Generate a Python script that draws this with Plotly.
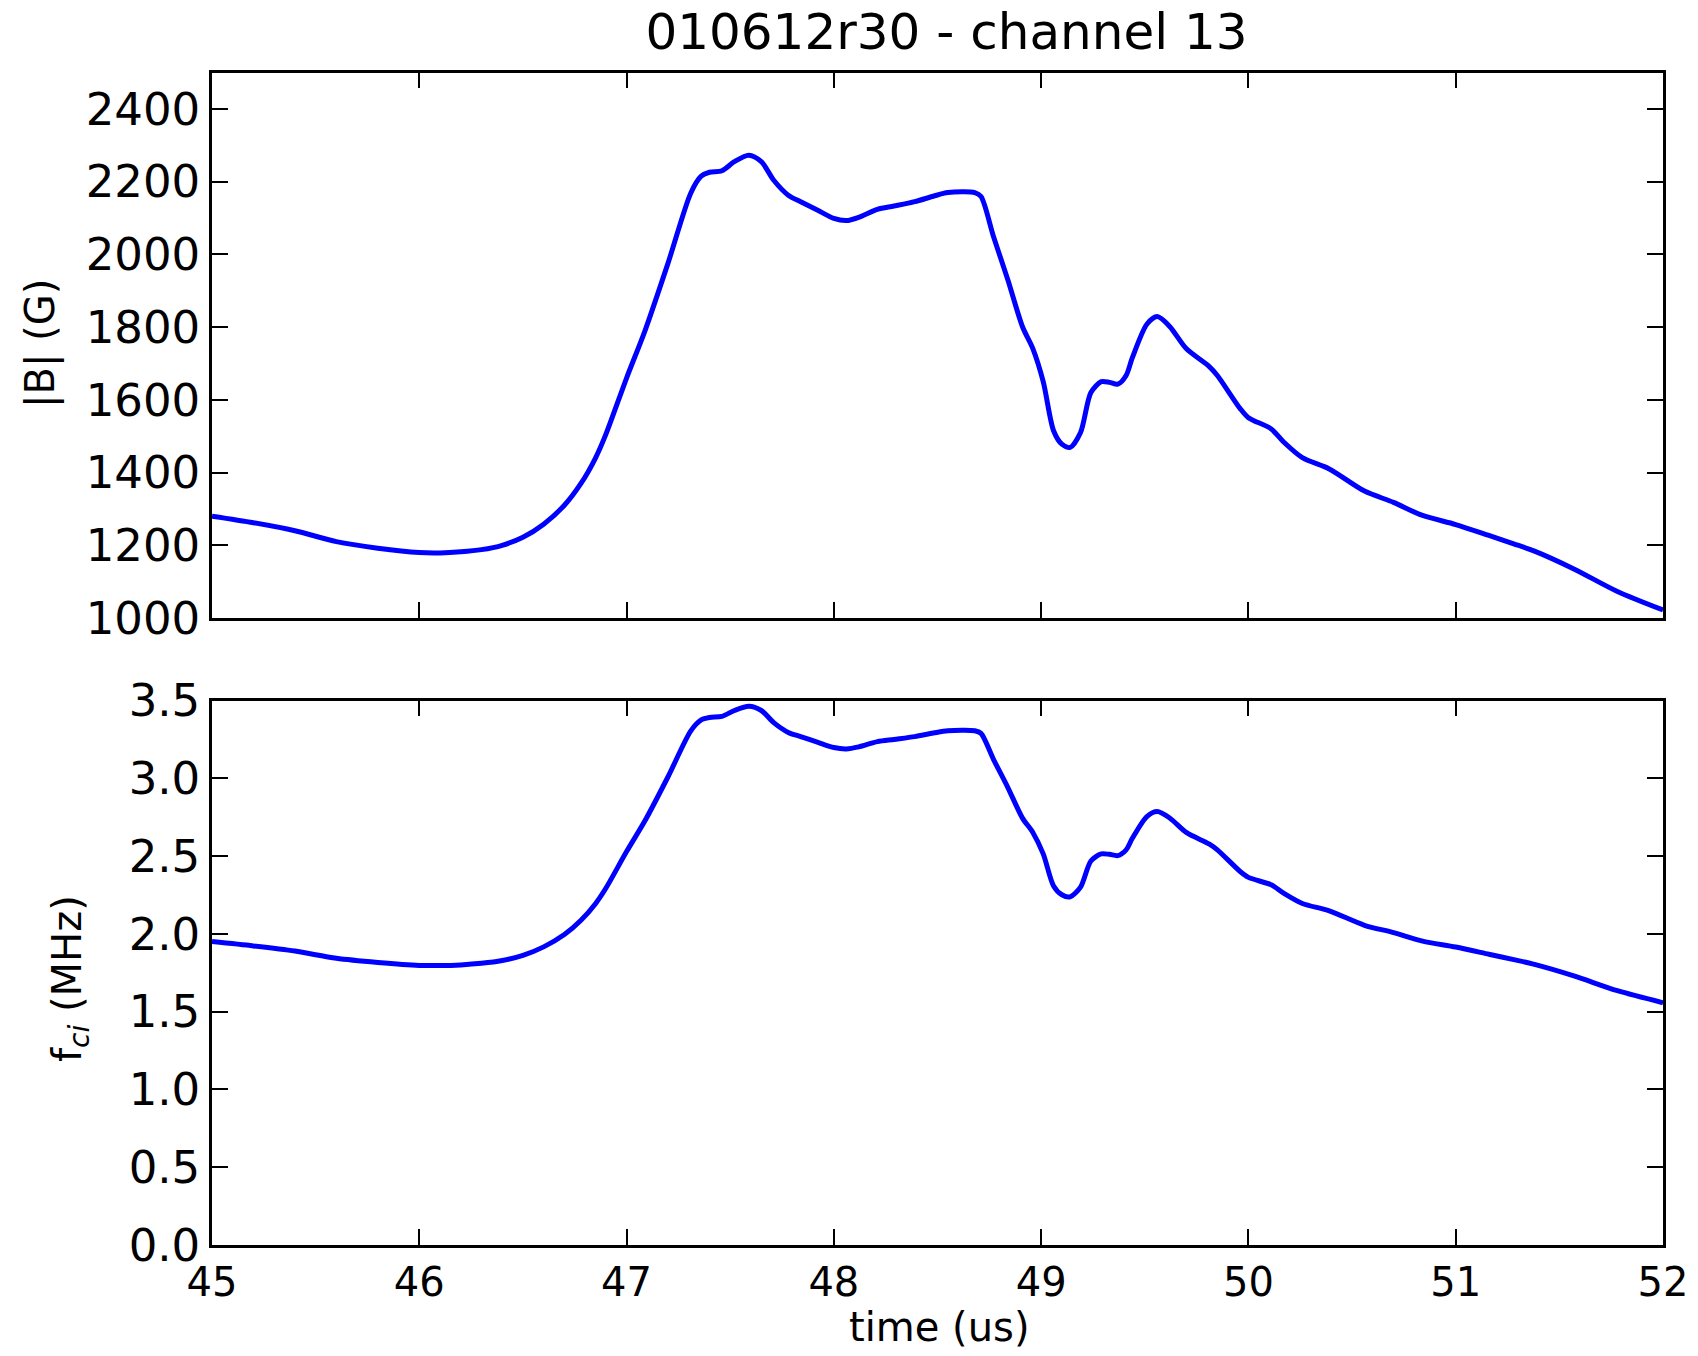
import plotly.graph_objects as go

time_us = [45.00, 45.20, 45.40, 45.60, 45.80, 46.00, 46.10, 46.20, 46.30, 46.40,
           46.50, 46.60, 46.70, 46.78, 46.85, 46.90, 47.00, 47.09, 47.20, 47.31,
           47.36, 47.40, 47.46, 47.52, 47.59, 47.65, 47.71, 47.78, 47.84, 47.92,
           48.00, 48.06, 48.12, 48.21, 48.29, 48.39, 48.48, 48.55, 48.68, 48.71,
           48.77, 48.84, 48.91, 48.96, 49.01, 49.06, 49.10, 49.14, 49.19, 49.24,
           49.29, 49.33, 49.37, 49.41, 49.44, 49.51, 49.56, 49.62, 49.70, 49.81,
           49.85, 49.96, 50.00, 50.11, 50.17, 50.26, 50.39, 50.56, 50.70, 50.84,
           51.00, 51.16, 51.28, 51.38, 51.57, 51.78, 52.00]

b_gauss = [1280, 1262, 1240, 1210, 1192, 1180, 1179, 1182, 1188, 1200,
           1222, 1258, 1310, 1370, 1440, 1505, 1660, 1792, 1976, 2169,
           2215, 2226, 2230, 2255, 2273, 2255, 2204, 2163, 2145, 2122,
           2099, 2093, 2102, 2124, 2133, 2145, 2160, 2170, 2170, 2159,
           2049, 1929, 1801, 1741, 1650, 1515, 1478, 1469, 1510, 1620,
           1650, 1648, 1643, 1667, 1716, 1808, 1829, 1802, 1741, 1692,
           1667, 1576, 1551, 1520, 1484, 1441, 1410, 1349, 1318, 1282,
           1257, 1227, 1204, 1184, 1135, 1073, 1022]

fci_mhz = [1.951, 1.923, 1.890, 1.844, 1.817, 1.798, 1.797, 1.801, 1.811, 1.829,
           1.862, 1.917, 1.996, 2.088, 2.195, 2.294, 2.530, 2.731, 3.011, 3.306,
           3.376, 3.392, 3.399, 3.437, 3.464, 3.437, 3.359, 3.296, 3.269, 3.234,
           3.199, 3.190, 3.203, 3.237, 3.251, 3.269, 3.292, 3.307, 3.307, 3.290,
           3.123, 2.940, 2.745, 2.653, 2.515, 2.309, 2.252, 2.239, 2.301, 2.469,
           2.515, 2.512, 2.504, 2.541, 2.615, 2.755, 2.787, 2.746, 2.653, 2.579,
           2.541, 2.402, 2.364, 2.316, 2.262, 2.196, 2.149, 2.056, 2.009, 1.954,
           1.916, 1.870, 1.835, 1.804, 1.730, 1.635, 1.558]

x_ticks = [45, 46, 47, 48, 49, 50, 51, 52]
b_ticks = [1000, 1200, 1400, 1600, 1800, 2000, 2200, 2400]
f_ticks = [0.0, 0.5, 1.0, 1.5, 2.0, 2.5, 3.0, 3.5]

# figure sits inside the page's 8px body margin
W, H = 1682, 1340
FONT = "DejaVu Sans"


def px(v):
    return v / W


def py(v):
    return 1 - v / H


x0, x1 = px(204), px(1655)
top_dom = [py(610), py(64.6)]
bot_dom = [py(1237), py(692.7)]

fig = go.Figure()
line = dict(color="#0000ff", width=5, shape="spline", smoothing=0.8)
fig.add_trace(go.Scatter(x=time_us, y=b_gauss, mode="lines", line=line,
                         xaxis="x", yaxis="y", showlegend=False))
fig.add_trace(go.Scatter(x=time_us, y=fci_mhz, mode="lines", line=line,
                         xaxis="x2", yaxis="y2", showlegend=False))

axis_common = dict(showgrid=False, zeroline=False, showline=True, linecolor="black",
                   linewidth=2.5, ticks="inside", ticklen=16, tickwidth=2,
                   tickcolor="black", mirror="allticks", automargin=False)
yfont = dict(family=FONT, size=45, color="black")
xfont = dict(family=FONT, size=40, color="black")

fig.update_layout(
    template="none",
    width=W, height=H, margin=dict(l=0, r=0, t=0, b=0, autoexpand=False),
    paper_bgcolor="white", plot_bgcolor="white",
    font=dict(family=FONT, color="black"),
    title=dict(text="010612r30 - channel 13", x=px(938.5), xanchor="center",
               y=py(23.5), yanchor="middle", yref="container", xref="paper",
               font=dict(family=FONT, size=50, color="black")),
    xaxis=dict(domain=[x0, x1], range=[45, 52], tickvals=x_ticks,
               showticklabels=False, anchor="y", tickfont=xfont, **axis_common),
    yaxis=dict(domain=top_dom, range=[1000, 2500], tickvals=b_ticks,
               anchor="x", ticklabelstandoff=0, tickfont=yfont, **axis_common),
    xaxis2=dict(domain=[x0, x1], range=[45, 52], tickvals=x_ticks,
                ticktext=[str(v) for v in x_ticks], anchor="y2",
                ticklabelstandoff=0, tickfont=xfont, **axis_common),
    yaxis2=dict(domain=bot_dom, range=[0, 3.5], tickvals=f_ticks,
                ticktext=[f"{v:.1f}" for v in f_ticks], anchor="x2",
                ticklabelstandoff=0, tickfont=yfont, **axis_common),
    annotations=[
        dict(text="|B| (G)", x=px(33), y=py(336), xref="paper", yref="paper",
             textangle=-90, showarrow=False, xanchor="center", yanchor="middle",
             font=dict(family=FONT, size=40, color="black")),
        dict(text="f<sub><i>ci</i></sub> (MHz)", x=px(62), y=py(970),
             xref="paper", yref="paper", textangle=-90, showarrow=False,
             xanchor="center", yanchor="middle",
             font=dict(family=FONT, size=40, color="black")),
        dict(text="time (us)", x=px(932), y=py(1319), xref="paper",
             yref="paper", showarrow=False, xanchor="center", yanchor="middle",
             font=dict(family=FONT, size=40, color="black")),
    ],
)

fig.write_html("out.html")
